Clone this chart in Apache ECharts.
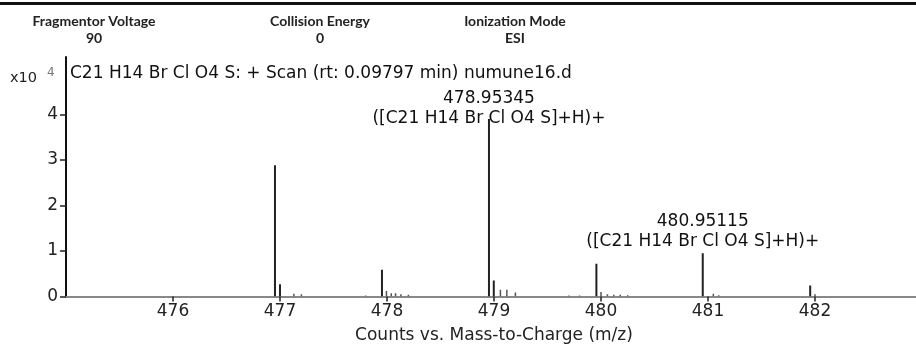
<!DOCTYPE html>
<html><head><meta charset="utf-8">
<script src="https://cdn.jsdelivr.net/npm/echarts@6/dist/echarts.min.js"></script>
<style>html,body{margin:0;padding:0;background:#fff}#c{width:916px;height:345px}</style>
</head><body><div id="c"></div>
<script>
// m/z of each peak and its intensity (x10^4 counts)
const peakMz = [476.953, 477.0, 477.13, 477.2, 477.8, 477.953, 477.995, 478.04, 478.08, 478.13, 478.2,
  478.953, 478.998, 479.06, 479.12, 479.2, 479.7, 479.8, 479.957, 480.0, 480.06, 480.12, 480.18, 480.25,
  480.951, 481.05, 481.1, 481.955, 482.0];
const peakCounts = [2.88, 0.27, 0.06, 0.05, 0.02, 0.59, 0.12, 0.07, 0.07, 0.05, 0.04,
  3.9, 0.35, 0.15, 0.15, 0.09, 0.02, 0.02, 0.72, 0.1, 0.05, 0.04, 0.04, 0.03,
  0.95, 0.06, 0.03, 0.24, 0.05];
// annotated peaks
const annoMz = [478.953, 480.951];
const annoCounts = [3.9, 0.95];
const annoLabel = ['478.95345\n([C21 H14 Br Cl O4 S]+H)+', '480.95115\n([C21 H14 Br Cl O4 S]+H)+'];
// y tick labels
const yTicks = [0, 1, 2, 3, 4];
// header
const headerNames = ['Fragmentor Voltage', 'Collision Energy', 'Ionization Mode'];
const headerValues = ['90', '0', 'ESI'];
const plotTitle = 'C21 H14 Br Cl O4 S: + Scan (rt: 0.09797 min) numune16.d';

const FONT = 'DejaVu Sans';
const FS = 17;
const chart = echarts.init(document.getElementById('c'), null, {renderer: 'canvas'});
const headerX = [94, 320, 515];
const graphic = [
  {type: 'rect', shape: {x: 0, y: 2, width: 916, height: 3}, style: {fill: '#111'}},
  {type: 'text', x: 10, y: 78, style: {text: 'x10', fontFamily: FONT, fontSize: 14.5, fill: '#222', verticalAlign: 'middle'}},
  {type: 'text', x: 47, y: 73, style: {text: '4', fontFamily: FONT, fontSize: 12, fill: '#777', verticalAlign: 'middle'}}
];
headerNames.forEach((n, i) => {
  graphic.push({type: 'text', x: headerX[i], y: 21, style: {text: n, fontFamily: 'Lato', fontWeight: 'bold', fontSize: 14, fill: '#222', align: 'center', verticalAlign: 'middle'}});
  graphic.push({type: 'text', x: headerX[i], y: 38, style: {text: headerValues[i], fontFamily: 'Lato', fontWeight: 'bold', fontSize: 14, fill: '#222', align: 'center', verticalAlign: 'middle'}});
});
graphic.push({type: 'text', x: 70, y: 74, style: {text: plotTitle, fontFamily: FONT, fontSize: FS, fill: '#111', verticalAlign: 'middle'}});

chart.setOption({
  animation: false,
  graphic: graphic,
  grid: {left: 66, top: 57, width: 856, height: 239.5, outerBoundsMode: 'none', containLabel: false},
  xAxis: [{
    type: 'value', min: 475, max: 483, interval: 1, position: 'bottom',
    axisLine: {show: true, onZero: false, lineStyle: {color: '#666', width: 2}},
    axisTick: {show: true, length: 5, lineStyle: {color: '#222', width: 1.5}},
    axisLabel: {showMinLabel: false, showMaxLabel: false, color: '#222', fontFamily: FONT, fontSize: FS, margin: 7},
    splitLine: {show: false},
    name: 'Counts vs. Mass-to-Charge (m/z)', nameLocation: 'middle', nameGap: 31,
    nameTextStyle: {color: '#222', fontFamily: FONT, fontSize: FS}
  }, {
    type: 'value', min: 475, max: 483, position: 'top',
    axisLine: {show: true, lineStyle: {color: '#888', width: 2}},
    axisTick: {show: false}, axisLabel: {show: false}, splitLine: {show: false}
  }],
  yAxis: {
    type: 'value', min: 0, max: 5.26,
    axisLine: {show: true, lineStyle: {color: '#111', width: 2}},
    axisTick: {show: true, length: 6, customValues: yTicks, lineStyle: {color: '#222', width: 1.5}},
    axisLabel: {customValues: yTicks, color: '#222', fontFamily: FONT, fontSize: FS, margin: 8},
    splitLine: {show: false}
  },
  series: [{
    type: 'custom',
    data: peakMz.map((m, i) => [m, peakCounts[i]]),
    renderItem: function (params, api) {
      const top = api.coord([api.value(0), api.value(1)]);
      const base = api.coord([api.value(0), 0]);
      const big = api.value(1) > 0.2;
      return {type: 'line', shape: {x1: top[0], y1: top[1], x2: base[0], y2: base[1]},
        style: {stroke: big ? '#222' : '#555', lineWidth: big ? 2 : 1.5}};
    },
    clip: true
  }, {
    type: 'scatter', symbolSize: 0, itemStyle: {opacity: 1}, z: 5,
    data: annoMz.map((m, i) => ({value: [m, annoCounts[i]],
      label: {formatter: annoLabel[i], offset: i === 0 ? [0, 12] : [0, 0]}})),
    label: {show: true, position: 'top', distance: 2, color: '#111', fontFamily: FONT, fontSize: FS, lineHeight: 20, align: 'center'}
  }]
});
</script></body></html>
